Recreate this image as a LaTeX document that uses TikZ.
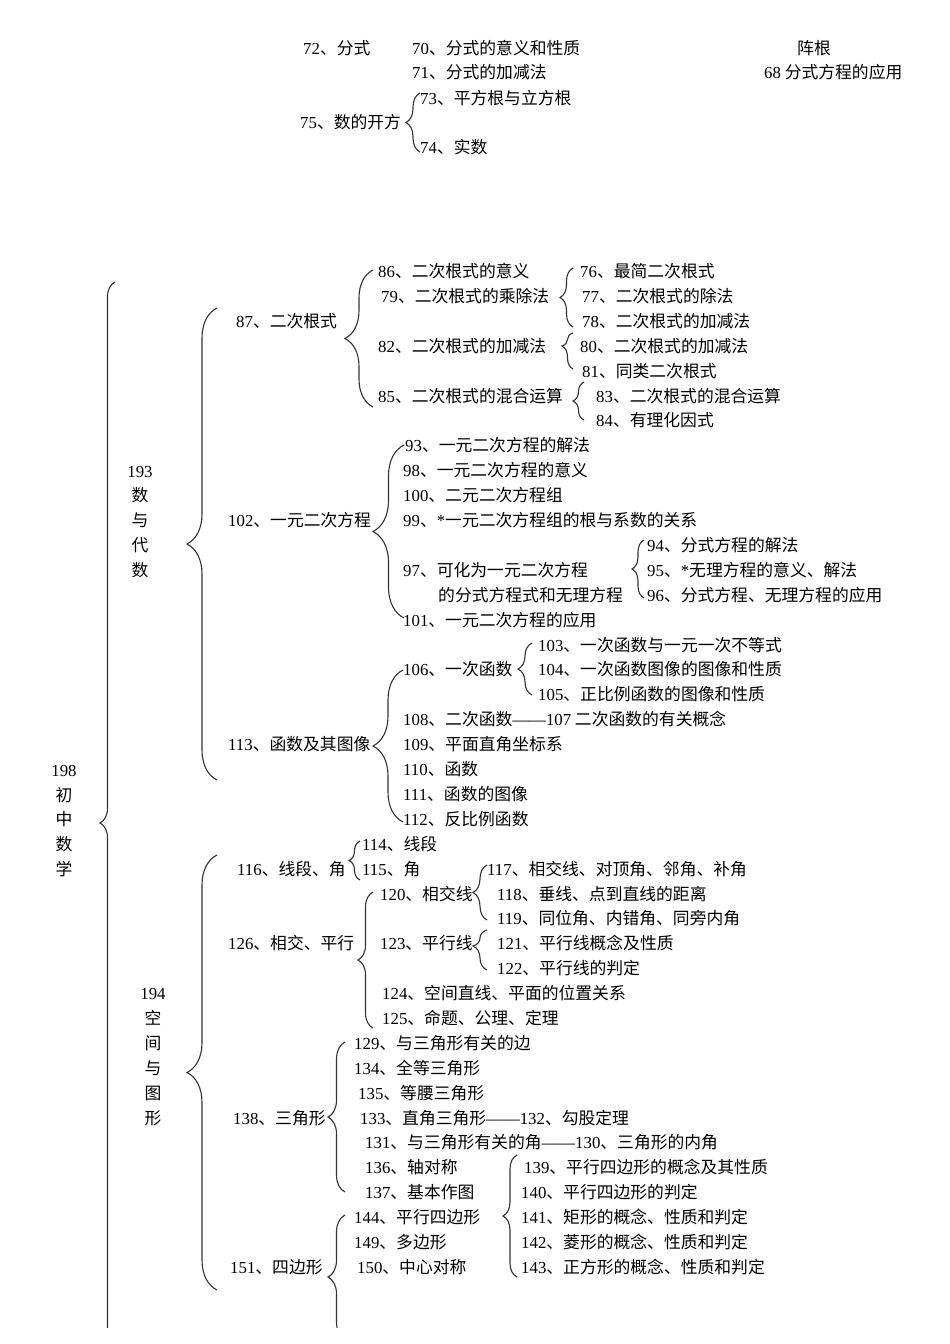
\documentclass[tikz,border=0pt]{standalone}
\usepackage{fontspec}
\setmainfont{Liberation Serif}
\newfontfamily\cjk{Noto Sans CJK SC}
\usepackage{tikz}
\usetikzlibrary{decorations.pathreplacing}
\newcommand\nm[1]{{\rmfamily #1}}

\begin{document}
\begin{tikzpicture}[
    x=1pt, y=-1pt,
    item/.style={
        anchor=west, inner sep=0pt,
        font=\cjk\fontsize{16.8}{16.8}\selectfont
    },
    vlabel/.style={
        align=center, inner sep=0pt,
        font=\cjk\fontsize{16.8}{24.9}\selectfont
    },
    brc/.style 2 args={
        draw=black!80, line width=1.1pt, decorate,
        decoration={brace, amplitude=#1, aspect=#2}
    }
]
\path[fill=white, use as bounding box] (0,0) rectangle (950,1344);

% top part
\node[item] (n72) at (303,48) {\nm{72}、分式};
\node[item] (n70) at (412,48) {\nm{70}、分式的意义和性质};
\node[item] (n71) at (412,72) {\nm{71}、分式的加减法};
\node[item] (nzg) at (797,48) {阵根};
\node[item] (n68) at (764,72) {\nm{68} 分式方程的应用};
\node[item] (n73) at (420,98) {\nm{73}、平方根与立方根};
\node[item] (n75) at (300,122) {\nm{75}、数的开方};
\node[item] (n74) at (420,147) {\nm{74}、实数};

% vertical labels
\node[vlabel] (n198) at (64,821) {\nm{198}\\初\\中\\数\\学};
\node[vlabel] (n193) at (140,522) {\nm{193}\\数\\与\\代\\数};
\node[vlabel] (n194) at (153,1057) {\nm{194}\\空\\间\\与\\图\\形};

% 数与代数
\node[item] (n86) at (378,271) {\nm{86}、二次根式的意义};
\node[item] (n76) at (580,271) {\nm{76}、最简二次根式};
\node[item] (n79) at (381,296) {\nm{79}、二次根式的乘除法};
\node[item] (n77) at (582,296) {\nm{77}、二次根式的除法};
\node[item] (n87) at (236,321) {\nm{87}、二次根式};
\node[item] (n78) at (582,321) {\nm{78}、二次根式的加减法};
\node[item] (n82) at (378,346) {\nm{82}、二次根式的加减法};
\node[item] (n80) at (580,346) {\nm{80}、二次根式的加减法};
\node[item] (n81) at (582,371) {\nm{81}、同类二次根式};
\node[item] (n85) at (378,396) {\nm{85}、二次根式的混合运算};
\node[item] (n83) at (596,396) {\nm{83}、二次根式的混合运算};
\node[item] (n84) at (596,420) {\nm{84}、有理化因式};
\node[item] (n93) at (405,445) {\nm{93}、一元二次方程的解法};
\node[item] (n98) at (403,470) {\nm{98}、一元二次方程的意义};
\node[item] (n100) at (403,495) {\nm{100}、二元二次方程组};
\node[item] (n102) at (228,520) {\nm{102}、一元二次方程};
\node[item] (n99) at (403,520) {\nm{99}、\nm{*}一元二次方程组的根与系数的关系};
\node[item] (n94) at (647,545) {\nm{94}、分式方程的解法};
\node[item] (n97) at (403,570) {\nm{97}、可化为一元二次方程};
\node[item] (n95) at (647,570) {\nm{95}、\nm{*}无理方程的意义、解法};
\node[item] (n97a) at (438,595) {的分式方程式和无理方程};
\node[item] (n96) at (647,595) {\nm{96}、分式方程、无理方程的应用};
\node[item] (n101) at (403,620) {\nm{101}、一元二次方程的应用};
\node[item] (n103) at (538,645) {\nm{103}、一次函数与一元一次不等式};
\node[item] (n106) at (403,669) {\nm{106}、一次函数};
\node[item] (n104) at (538,669) {\nm{104}、一次函数图像的图像和性质};
\node[item] (n105) at (538,694) {\nm{105}、正比例函数的图像和性质};
\node[item] (n108) at (403,719) {\nm{108}、二次函数\nm{——107} 二次函数的有关概念};
\node[item] (n113) at (228,744) {\nm{113}、函数及其图像};
\node[item] (n109) at (403,744) {\nm{109}、平面直角坐标系};
\node[item] (n110) at (403,769) {\nm{110}、函数};
\node[item] (n111) at (403,794) {\nm{111}、函数的图像};
\node[item] (n112) at (403,819) {\nm{112}、反比例函数};

% 空间与图形
\node[item] (n114) at (362,844) {\nm{114}、线段};
\node[item] (n116) at (237,869) {\nm{116}、线段、角};
\node[item] (n115) at (362,869) {\nm{115}、角};
\node[item] (n117) at (487,869) {\nm{117}、相交线、对顶角、邻角、补角};
\node[item] (n120) at (380,894) {\nm{120}、相交线};
\node[item] (n118) at (497,894) {\nm{118}、垂线、点到直线的距离};
\node[item] (n119) at (497,918) {\nm{119}、同位角、内错角、同旁内角};
\node[item] (n126) at (228,943) {\nm{126}、相交、平行};
\node[item] (n123) at (380,943) {\nm{123}、平行线};
\node[item] (n121) at (497,943) {\nm{121}、平行线概念及性质};
\node[item] (n122) at (497,968) {\nm{122}、平行线的判定};
\node[item] (n124) at (382,993) {\nm{124}、空间直线、平面的位置关系};
\node[item] (n125) at (382,1018) {\nm{125}、命题、公理、定理};
\node[item] (n129) at (354,1043) {\nm{129}、与三角形有关的边};
\node[item] (n134) at (354,1068) {\nm{134}、全等三角形};
\node[item] (n135) at (358,1093) {\nm{135}、等腰三角形};
\node[item] (n138) at (233,1118) {\nm{138}、三角形};
\node[item] (n133) at (360,1118) {\nm{133}、直角三角形\nm{——132}、勾股定理};
\node[item] (n131) at (365,1142) {\nm{131}、与三角形有关的角\nm{——130}、三角形的内角};
\node[item] (n136) at (365,1167) {\nm{136}、轴对称};
\node[item] (n139) at (524,1167) {\nm{139}、平行四边形的概念及其性质};
\node[item] (n137) at (365,1192) {\nm{137}、基本作图};
\node[item] (n140) at (521,1192) {\nm{140}、平行四边形的判定};
\node[item] (n144) at (354,1217) {\nm{144}、平行四边形};
\node[item] (n141) at (521,1217) {\nm{141}、矩形的概念、性质和判定};
\node[item] (n149) at (354,1242) {\nm{149}、多边形};
\node[item] (n142) at (521,1242) {\nm{142}、菱形的概念、性质和判定};
\node[item] (n151) at (230,1267) {\nm{151}、四边形};
\node[item] (n150) at (357,1267) {\nm{150}、中心对称};
\node[item] (n143) at (521,1267) {\nm{143}、正方形的概念、性质和判定};

% brace ends
\foreach \n/\x/\t/\b in {75/420/93/152, 198/115/282/1364,
        193/217/308/780, 194/217/855/1290, 87/373/270/407,
        79/573/268/327, 82/573/333/369, 85/584/382/420,
        102/404/445/618, 97/644/540/598, 106/532/643/695,
        113/403/670/822, 116/360/841/880, 120/487/865/920,
        123/487/930/970, 126/373/892/1028, 138/345/1042/1192,
        144/517/1155/1277, 151/345/1215/1339}{
    \coordinate (t\n) at (\x,\t);
    \coordinate (b\n) at (\x,\b);
}

% braces
\begin{scope}
\clip (0,0) rectangle (950,1327);
\foreach \n/\amp/\asp in {75/14pt/0.5, 198/15pt/0.5,
        193/30pt/0.5, 194/30pt/0.5, 87/28pt/0.5,
        79/13pt/0.5, 82/11pt/0.64, 85/11pt/0.5,
        102/31pt/0.5, 97/12pt/0.5, 106/14pt/0.5,
        113/30pt/0.5, 116/11pt/0.5, 120/14pt/0.5,
        123/14pt/0.6, 126/15pt/0.5, 138/17pt/0.5,
        144/14pt/0.5, 151/17pt/0.5}{
    \draw[brc={\amp}{\asp}] (b\n) -- (t\n);
}
\end{scope}
\end{tikzpicture}
\end{document}
